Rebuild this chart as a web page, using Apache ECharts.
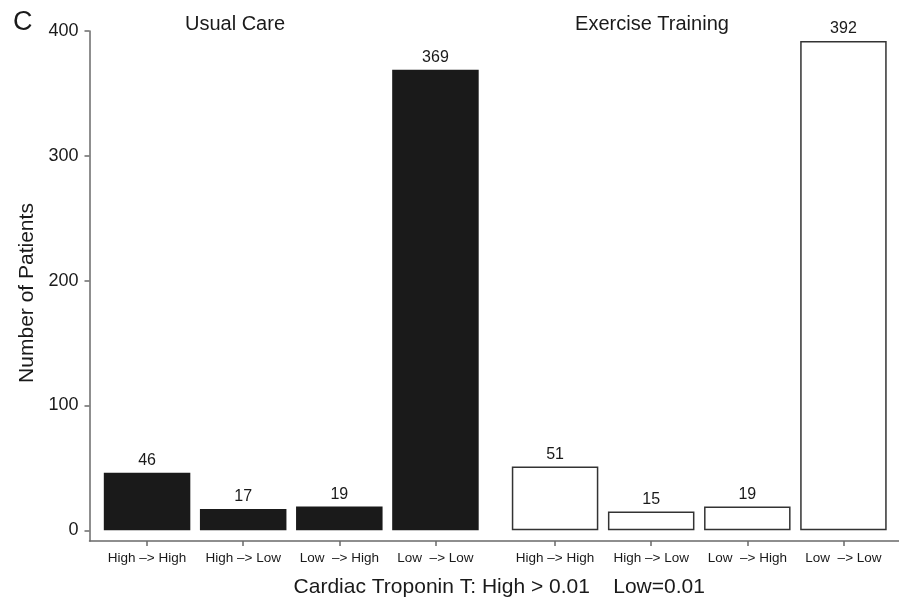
<!DOCTYPE html>
<html>
<head>
<meta charset="utf-8">
<script src="https://cdn.jsdelivr.net/npm/echarts@6/dist/echarts.min.js"></script>
<style>
  html, body { margin: 0; padding: 0; background: #fff; }
  #chart { width: 899px; height: 604px; }
</style>
</head>
<body>
<div id="chart"></div>
<script>
// Troponin T transitions by study arm
const categories = ['High –> High', 'High –> Low', 'Low  –> High', 'Low  –> Low'];
const groupNames = ['Usual Care', 'Exercise Training'];
const usualCare = [46, 17, 19, 369];
const exerciseTraining = [51, 15, 19, 392];
const yTicks = [0, 100, 200, 300, 400];
const yMin = -8.6;
const yMax = 400;

const FONT = '"Liberation Sans", Arial, Helvetica, sans-serif';
const TEXT = '#1a1a1a';
const AXIS = '#6a6a6a';

const chart = echarts.init(document.getElementById('chart'));

const valueLabel = {
  show: true,
  position: 'top',
  distance: 4,
  fontFamily: FONT,
  fontSize: 16,
  color: TEXT
};

const catAxis = (gridIndex) => ({
  type: 'category',
  gridIndex,
  data: categories,
  boundaryGap: true,
  axisLine: { show: false, onZero: false },
  axisTick: { show: true, alignWithLabel: true, length: 5, lineStyle: { color: AXIS, width: 1.5 } },
  axisLabel: { fontFamily: FONT, fontSize: 13.5, color: TEXT, margin: 10, interval: 0 },
  splitLine: { show: false }
});

const hiddenY = (gridIndex) => ({
  type: 'value',
  gridIndex,
  min: yMin,
  max: yMax,
  show: false,
  splitLine: { show: false }
});

chart.setOption({
  backgroundColor: '#fff',
  animation: false,
  title: [
    { text: 'C', left: 8, top: 4, textStyle: { fontFamily: FONT, fontSize: 27, fontWeight: 'normal', color: TEXT } },
    { text: groupNames[0], left: 230, top: 9, textAlign: 'center', textStyle: { fontFamily: FONT, fontSize: 20, fontWeight: 'normal', color: TEXT } },
    { text: groupNames[1], left: 647, top: 9, textAlign: 'center', textStyle: { fontFamily: FONT, fontSize: 20, fontWeight: 'normal', color: TEXT } }
  ],
  grid: [
    { left: 99, width: 384.5, top: 31, bottom: 63 },
    { left: 507, width: 384.5, top: 31, bottom: 63 },
    { left: 89.5, right: 0, top: 31, bottom: 63 }
  ],
  xAxis: [
    catAxis(0),
    catAxis(1),
    {
      type: 'value',
      gridIndex: 2,
      min: 0,
      max: 1,
      axisLine: { show: true, onZero: false, lineStyle: { color: AXIS, width: 1.5 } },
      axisTick: { show: false },
      axisLabel: { show: false },
      splitLine: { show: false },
      name: 'Cardiac Troponin T: High > 0.01    Low=0.01',
      nameLocation: 'middle',
      nameGap: 36,
      nameTextStyle: { fontFamily: FONT, fontSize: 21, color: TEXT, padding: [0, 0, 0, 10] }
    }
  ],
  yAxis: [
    hiddenY(0),
    hiddenY(1),
    {
      type: 'value',
      gridIndex: 2,
      min: yMin,
      max: yMax,
      axisLine: { show: true, onZero: false, lineStyle: { color: AXIS, width: 1.5 } },
      axisTick: { show: true, length: 5, customValues: yTicks, lineStyle: { color: AXIS, width: 1.5 } },
      axisLabel: { customValues: yTicks, fontFamily: FONT, fontSize: 18, color: TEXT, margin: 11 },
      splitLine: { show: false },
      name: 'Number of Patients',
      nameLocation: 'middle',
      nameGap: 52,
      nameTextStyle: { fontFamily: FONT, fontSize: 21, color: TEXT, padding: [0, 14, 0, 0] }
    }
  ],
  series: [
    {
      name: groupNames[0],
      type: 'bar',
      xAxisIndex: 0,
      yAxisIndex: 0,
      data: usualCare,
      barWidth: '90%',
      itemStyle: { color: '#1a1a1a', borderColor: '#1a1a1a', borderWidth: 0 },
      label: valueLabel
    },
    {
      name: groupNames[1],
      type: 'bar',
      xAxisIndex: 1,
      yAxisIndex: 1,
      data: exerciseTraining,
      barWidth: '90%',
      itemStyle: { color: '#ffffff', borderColor: '#333333', borderWidth: 1.5 },
      label: valueLabel
    }
  ]
});
</script>
</body>
</html>
